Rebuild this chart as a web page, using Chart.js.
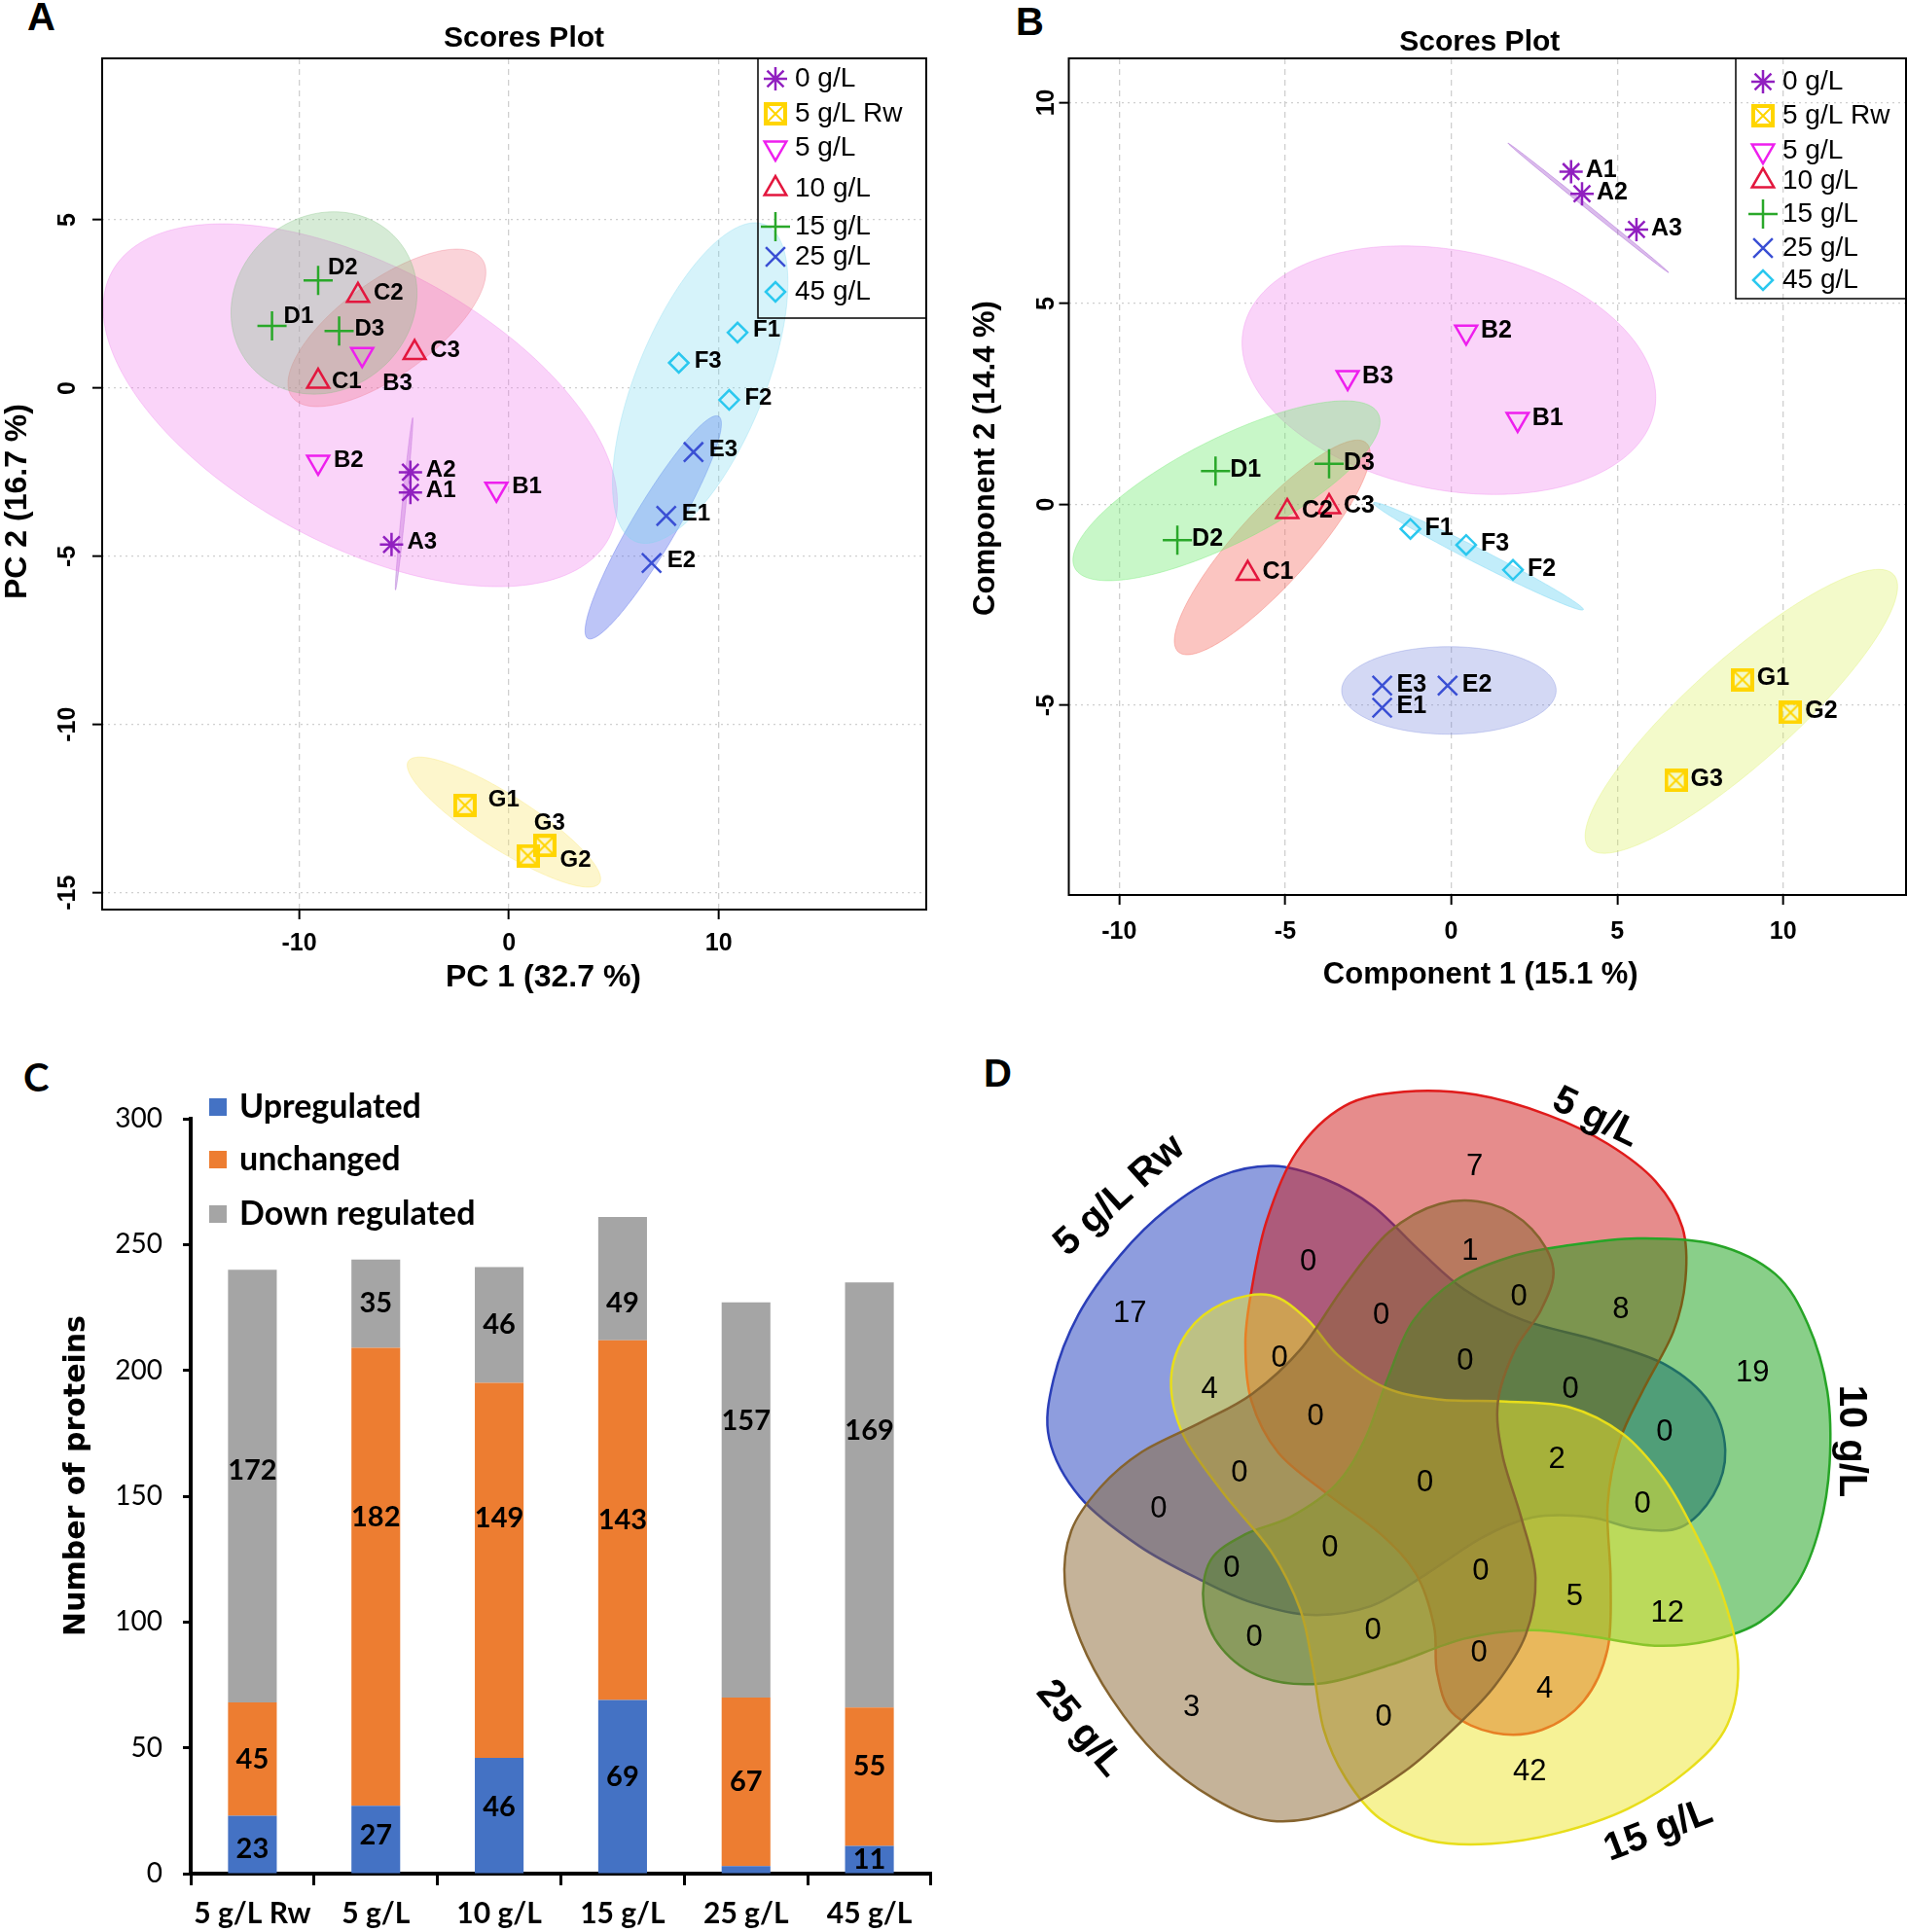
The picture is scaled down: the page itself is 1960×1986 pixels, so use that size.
<!DOCTYPE html>
<html>
<head>
<meta charset="utf-8">
<title>Scores plots, protein counts and Venn</title>
<script src="https://cdn.jsdelivr.net/npm/chart.js@4.4.1/dist/chart.umd.min.js"></script>
<style>
  html, body { margin: 0; padding: 0; background: #fff; overflow: hidden; }
  body { position: relative; width: 1960px; height: 1986px; }
  canvas { position: absolute; }
  .tag { position: absolute; font: bold 40px "Liberation Sans", Arial, sans-serif; line-height: 1; color: #000; }
</style>
</head>
<body>
<div class="tag" style="left:28px; top:-3px;">A</div>
<div class="tag" style="left:1044px; top:2px;">B</div>
<div class="tag" style="left:24px; top:1087px; font-family: Lato, sans-serif;">C</div>
<div class="tag" style="left:1011px; top:1083px;">D</div>

<canvas id="chartA" width="980" height="1040" style="left:0; top:0;"></canvas>
<canvas id="chartB" width="980" height="1040" style="left:980px; top:0;"></canvas>
<canvas id="chartC" width="990" height="896" style="left:0; top:1090px;"></canvas>
<canvas id="chartD" width="960" height="926" style="left:1000px; top:1060px;"></canvas>

<script>
// ─── Fonts ────────────────────────────────────────────────────────────────────
const SANS    = '"Liberation Sans", Arial, sans-serif';
const CALIBRI = 'Lato, "Liberation Sans", sans-serif';
const VERDANA = '"DejaVu Sans", Verdana, sans-serif';

// ─── Data: panels A and B (sample scores) ─────────────────────────────────────
const groupNames = ['0 g/L', '5 g/L Rw', '5 g/L', '10 g/L', '15 g/L', '25 g/L', '45 g/L'];
const sampleIds  = [['A1', 'A2', 'A3'], ['G1', 'G2', 'G3'], ['B1', 'B2', 'B3'], ['C1', 'C2', 'C3'],
                    ['D1', 'D2', 'D3'], ['E1', 'E2', 'E3'], ['F1', 'F2', 'F3']];

// PCA, PC1 / PC2
const pcaX = [[-4.7, -4.7, -5.6], [-2.1, 0.9, 1.7], [-0.6, -9.1, -7.0], [-9.1, -7.2, -4.5],
              [-11.3, -9.1, -8.1], [7.5, 6.8, 8.8], [10.9, 10.5, 8.1]];
const pcaY = [[-3.1, -2.5, -4.65], [-12.4, -13.9, -13.6], [-3.0, -2.2, 1.0], [0.2, 2.75, 1.05],
              [1.85, 3.2, 1.7], [-3.8, -5.2, -1.9], [1.65, -0.35, 0.75]];
// PCA group regions: centre x, centre y, then two conjugate semi-axes (x, y) in score units
const pcaRegions = [
  [-5.0, -3.44, 0.41, 2.56, 0.09, -0.01],
  [-0.24, -12.9, 4.56, -1.81, -0.69, -0.68],
  [-7.09, -0.51, 11.85, -3.96, -3.15, -3.66],
  [-5.82, 1.79, 4.53, 2.05, 1.32, -1.13],
  [-8.82, 2.53, 0.47, 2.71, 4.41, 0],
  [6.88, -4.14, 3.12, 3.30, 0.91, -0.33],
  [9.12, 0.15, -3.08, -4.71, 2.83, -0.72],
];

// PLS-DA, component 1 / component 2
const plsX = [[3.61, 3.94, 5.58], [8.77, 10.22, 6.77], [2.0, 0.45, -3.12], [-6.13, -4.94, -3.68],
              [-7.1, -8.25, -3.68], [-2.08, -0.11, -2.08], [-1.23, 1.86, 0.45]];
const plsY = [[8.28, 7.73, 6.84], [-4.36, -5.18, -6.87], [2.12, 4.29, 3.16], [-1.72, -0.18, -0.06],
              [0.83, -0.89, 1.01], [-5.06, -4.51, -4.51], [-0.61, -1.63, -1.01]];
const plsRegions = [
  [4.13, 7.38, 2.42, -1.61, 0.03, 0.04],
  [8.74, -5.15, 4.59, 3.40, 1.04, -0.96],
  [-0.07, 3.34, 6.19, -1.02, -0.71, -2.92],
  [-5.39, -1.07, -2.83, -2.60, 0.83, -0.61],
  [-6.77, 0.34, 4.57, 1.92, 0.71, -1.15],
  [-0.07, -4.63, 3.23, 0, 0, 1.09],
  [0.82, -1.29, 3.16, -1.33, -0.10, -0.16],
];

// ─── Data: panel C (protein counts) ───────────────────────────────────────────
const conditions    = ['5 g/L Rw', '5 g/L', '10 g/L', '15 g/L', '25 g/L', '45 g/L'];
const upregulated   = [23, 27, 46, 69, 3, 11];
const unchanged     = [45, 182, 149, 143, 67, 55];
const downRegulated = [172, 35, 46, 49, 157, 169];

// ─── Data: panel D (Venn region counts) ───────────────────────────────────────
const vennSets   = ['5 g/L Rw', '5 g/L', '10 g/L', '15 g/L', '25 g/L'];
const vennCounts = [17, 7, 19, 42, 3, 0, 1, 0, 8, 0, 0, 4, 0, 0, 0, 0, 2, 0, 0, 0,
                    0, 0, 0, 0, 5, 12, 0, 0, 0, 4, 0];

// ─── Styles ───────────────────────────────────────────────────────────────────
const groupColors = ['#9120c0', '#ffd500', '#ee1fee', '#e3173e', '#2aa82a', '#3a4fd4', '#2bc8ef'];

function makeBoxCross(size, color) {
  const c = document.createElement('canvas');
  c.width = c.height = size;
  const g = c.getContext('2d');
  g.strokeStyle = color;
  g.lineWidth = 4;
  g.strokeRect(2, 2, size - 4, size - 4);
  g.lineWidth = 2;
  g.beginPath();
  g.moveTo(4, 4); g.lineTo(size - 4, size - 4);
  g.moveTo(size - 4, 4); g.lineTo(4, size - 4);
  g.stroke();
  return c;
}
const boxCross = makeBoxCross(24, '#ffd500');
const markerStyle    = ['star', boxCross, 'triangle', 'triangle', 'cross', 'crossRot', 'rectRot'];
const markerRotation = [0, 0, 180, 0, 0, 0, 0];
const markerRadius   = [12, 12, 13, 13, 15, 14, 10];

const fillsA = ['rgba(150,60,200,0.3)', 'rgba(250,230,110,0.35)', 'rgba(240,120,235,0.32)',
                'rgba(240,110,130,0.3)', 'rgba(120,190,120,0.3)', 'rgba(90,110,235,0.4)',
                'rgba(120,215,240,0.3)'];
const fillsB = ['rgba(150,60,200,0.35)', 'rgba(215,240,80,0.3)', 'rgba(240,120,235,0.32)',
                'rgba(245,110,100,0.4)', 'rgba(110,235,110,0.38)', 'rgba(110,125,220,0.3)',
                'rgba(120,215,245,0.45)'];

// ─── Helpers ──────────────────────────────────────────────────────────────────

function closedSpline(ctx, p) {
  const n = p.length;
  ctx.beginPath();
  ctx.moveTo(p[0][0], p[0][1]);
  for (let i = 0; i < n; i++) {
    const p0 = p[(i - 1 + n) % n], p1 = p[i], p2 = p[(i + 1) % n], p3 = p[(i + 2) % n];
    ctx.bezierCurveTo(p1[0] + (p2[0] - p0[0]) / 6, p1[1] + (p2[1] - p0[1]) / 6,
                      p2[0] - (p3[0] - p1[0]) / 6, p2[1] - (p3[1] - p1[1]) / 6,
                      p2[0], p2[1]);
  }
  ctx.closePath();
}

function rotatedText(ctx, text, x, y, deg) {
  ctx.save();
  ctx.translate(x, y);
  ctx.rotate(deg * Math.PI / 180);
  ctx.fillText(text, 0, 0);
  ctx.restore();
}

// ─── Plugins for the score plots ──────────────────────────────────────────────

const groupEllipses = {
  id: 'groupEllipses',
  beforeDatasetsDraw(chart) {
    const { ctx, chartArea: ca, scales: { x, y } } = chart;
    ctx.save();
    ctx.beginPath();
    ctx.rect(ca.left, ca.top, ca.width, ca.height);
    ctx.clip();
    chart.data.datasets.forEach(ds => {
      const [cx, cy, ux, uy, vx, vy] = ds.region;
      ctx.beginPath();
      for (let k = 0; k <= 180; k++) {
        const th = k / 180 * 2 * Math.PI, c = Math.cos(th), s = Math.sin(th);
        const px = x.getPixelForValue(cx + ux * c + vx * s);
        const py = y.getPixelForValue(cy + uy * c + vy * s);
        if (k) ctx.lineTo(px, py); else ctx.moveTo(px, py);
      }
      ctx.closePath();
      ctx.fillStyle = ds.regionFill;
      ctx.fill();
      ctx.strokeStyle = ds.regionFill;
      ctx.lineWidth = 1;
      ctx.stroke();
    });
    ctx.restore();
  }
};

const scoreDecor = {
  id: 'scoreDecor',
  afterDatasetsDraw(chart, args, o) {
    const { ctx, chartArea: ca } = chart;
    ctx.save();

    // sample names next to the markers
    ctx.fillStyle = '#000';
    ctx.font = `bold ${o.labelSize}px ${SANS}`;
    ctx.textAlign = 'left';
    ctx.textBaseline = 'middle';
    chart.data.datasets.forEach((ds, i) => {
      chart.getDatasetMeta(i).data.forEach((pt, k) => {
        const id = ds.ids[k];
        const [dx, dy] = o.shifts[id] || o.shift;
        ctx.fillText(id, pt.x + dx, pt.y + dy);
      });
    });

    // plot frame
    ctx.strokeStyle = '#000';
    ctx.lineWidth = 2;
    ctx.strokeRect(ca.left, ca.top, ca.width, ca.height);

    // title and axis titles
    ctx.textAlign = 'center';
    ctx.font = `bold ${o.titleSize}px ${SANS}`;
    ctx.fillText(o.title, (ca.left + ca.right) / 2 + o.titleAt[0], ca.top - o.titleAt[1]);
    ctx.font = `bold ${o.axisTitleSize}px ${SANS}`;
    ctx.fillText(o.xTitle, (ca.left + ca.right) / 2 + o.xTitleAt[0], ca.bottom + o.xTitleAt[1]);
    rotatedText(ctx, o.yTitle, ca.left - o.yTitleAt[0], (ca.top + ca.bottom) / 2 + o.yTitleAt[1], -90);

    // legend box
    const L = o.legend, bx = ca.right - L.w, by = ca.top;
    ctx.lineWidth = 1.5;
    ctx.strokeRect(bx, by, L.w, L.h);
    ctx.font = `${L.size}px ${SANS}`;
    ctx.textAlign = 'left';
    chart.data.datasets.forEach((ds, i) => {
      const yy = by + L.rows[i];
      ctx.strokeStyle = ds.pointBorderColor;
      ctx.fillStyle = 'rgba(0,0,0,0)';
      ctx.lineWidth = 2.5;
      Chart.helpers.drawPoint(ctx, {
        pointStyle: ds.pointStyle, rotation: ds.pointRotation,
        radius: ds.pointRadius, borderWidth: 2.5
      }, bx + L.markerX, yy);
      ctx.fillStyle = '#000';
      ctx.fillText(ds.label, bx + L.textX, yy);
    });
    ctx.restore();
  }
};

function scoreDatasets(xs, ys, regions, fills) {
  return groupNames.map((name, g) => ({
    label: name,
    data: xs[g].map((v, k) => ({ x: v, y: ys[g][k] })),
    ids: sampleIds[g],
    region: regions[g],
    regionFill: fills[g],
    pointStyle: markerStyle[g],
    pointRotation: markerRotation[g],
    pointRadius: markerRadius[g],
    pointHoverRadius: markerRadius[g],
    pointBorderColor: groupColors[g],
    pointBackgroundColor: 'rgba(0,0,0,0)',
    pointBorderWidth: 2.5,
  }));
}

function scoreScales(c) {
  return {
    x: {
      type: 'linear', min: c.xMin, max: c.xMax,
      ticks: { stepSize: c.xStep, includeBounds: false, color: '#000', padding: c.xTickPad,
               font: { family: SANS, size: 25, weight: 'bold' } },
      grid: { color: '#cfcfcf', lineWidth: 1.3, tickColor: '#000', tickLength: 10, tickWidth: 2 },
      border: { display: false, dash: [6, 5] },
      afterFit(s) { s.height = c.xAxisH; s.paddingLeft = 0; s.paddingRight = 0; },
    },
    y: {
      type: 'linear', min: c.yMin, max: c.yMax,
      ticks: { stepSize: c.yStep, includeBounds: false, color: '#000', padding: c.yTickPad,
               minRotation: 90, maxRotation: 90, crossAlign: 'center',
               font: { family: SANS, size: 25, weight: 'bold' } },
      grid: { color: '#cfcfcf', lineWidth: 1.3, tickColor: '#000', tickLength: 10, tickWidth: 2 },
      border: { display: false, dash: [2, 4] },
      afterFit(s) { s.width = c.yAxisW; s.paddingTop = 0; s.paddingBottom = 0; },
    },
  };
}

// ─── Panel A: PCA scores plot ─────────────────────────────────────────────────
new Chart(document.getElementById('chartA'), {
  type: 'scatter',
  data: { datasets: scoreDatasets(pcaX, pcaY, pcaRegions, fillsA) },
  plugins: [groupEllipses, scoreDecor],
  options: {
    responsive: false,
    animation: false,
    events: [],
    layout: { autoPadding: false, padding: { left: 0, right: 28, top: 60, bottom: 0 } },
    scales: scoreScales({
      xMin: -19.4, xMax: 19.9, xStep: 10, yMin: -15.5, yMax: 9.8, yStep: 5,
      xTickPad: 10, yTickPad: 7, xAxisH: 105, yAxisW: 105,
    }),
    plugins: {
      legend: { display: false },
      tooltip: { enabled: false },
      scoreDecor: {
        title: 'Scores Plot', titleSize: 30, titleAt: [10, 20], labelSize: 24,
        xTitle: 'PC 1 (32.7 %)', yTitle: 'PC 2 (16.7 %)', axisTitleSize: 32,
        xTitleAt: [30, 70], yTitleAt: [87, 18],
        shift: [16, -2],
        shifts: { B3: [21, 30], G1: [24, -5], G2: [33, 5], G3: [-11, -23],
                  D1: [12, -10], D2: [10, -13], C1: [14, 0] },
        legend: { w: 173, h: 267, markerX: 18, textX: 38, size: 28,
                  rows: [21, 57, 92, 134, 173, 204, 240] },
      },
    },
  },
});

// ─── Panel B: PLS-DA scores plot ──────────────────────────────────────────────
new Chart(document.getElementById('chartB'), {
  type: 'scatter',
  data: { datasets: scoreDatasets(plsX, plsY, plsRegions, fillsB) },
  plugins: [groupEllipses, scoreDecor],
  options: {
    responsive: false,
    animation: false,
    events: [],
    layout: { autoPadding: false, padding: { left: 0, right: 1, top: 60, bottom: 0 } },
    scales: scoreScales({
      xMin: -11.52, xMax: 13.7, xStep: 5, yMin: -9.72, yMax: 11.1, yStep: 5,
      xTickPad: 13, yTickPad: -2, xAxisH: 120, yAxisW: 118.5,
    }),
    plugins: {
      legend: { display: false },
      tooltip: { enabled: false },
      scoreDecor: {
        title: 'Scores Plot', titleSize: 30, titleAt: [-8, 16], labelSize: 25,
        xTitle: 'Component 1 (15.1 %)', yTitle: 'Component 2 (14.4 %)', axisTitleSize: 31,
        xTitleAt: [-7, 82], yTitleAt: [85, -19],
        shift: [15, -1],
        shifts: {},
        legend: { w: 175, h: 247, markerX: 28, textX: 48, size: 28,
                  rows: [24, 59, 95, 126, 160, 195, 228] },
      },
    },
  },
});

// ─── Panel C: stacked protein counts ──────────────────────────────────────────
const barDecor = {
  id: 'barDecor',
  afterDatasetsDraw(chart, args, o) {
    const { ctx, chartArea: ca } = chart;
    ctx.save();
    ctx.font = `bold ${o.valueSize}px ${CALIBRI}`;
    ctx.fillStyle = '#000';
    ctx.textAlign = 'center';
    ctx.textBaseline = 'middle';
    chart.data.datasets.forEach((ds, i) => {
      chart.getDatasetMeta(i).data.forEach((bar, k) => {
        const v = ds.data[k];
        if (v < o.minLabel) return;
        ctx.fillText(String(v), bar.x, (bar.y + bar.base) / 2 + o.nudge[i][k]);
      });
    });

    ctx.font = `bold ${o.legendSize}px ${CALIBRI}`;
    ctx.textAlign = 'left';
    chart.data.datasets.forEach((ds, i) => {
      const yy = ca.top + o.legendRows[i];
      ctx.fillStyle = ds.backgroundColor;
      ctx.fillRect(ca.left + o.legendX, yy - o.box / 2, o.box, o.box);
      ctx.fillStyle = '#000';
      ctx.fillText(ds.label, ca.left + o.legendX + o.box + o.legendGap, yy);
    });

    ctx.textAlign = 'center';
    ctx.font = `bold ${o.yTitleSize}px ${VERDANA}`;
    rotatedText(ctx, o.yTitle, ca.left - o.yTitleAt[0], (ca.top + ca.bottom) / 2 + o.yTitleAt[1], -90);
    ctx.restore();
  }
};

new Chart(document.getElementById('chartC'), {
  type: 'bar',
  data: {
    labels: conditions,
    datasets: [
      { label: 'Upregulated',    data: upregulated,   backgroundColor: '#4472c4' },
      { label: 'unchanged',      data: unchanged,     backgroundColor: '#ed7d31' },
      { label: 'Down regulated', data: downRegulated, backgroundColor: '#a5a5a5' },
    ],
  },
  plugins: [barDecor],
  options: {
    responsive: false,
    animation: false,
    events: [],
    barPercentage: 0.395,
    categoryPercentage: 1,
    layout: { autoPadding: false, padding: { left: 0, right: 33, top: 60, bottom: 0 } },
    scales: {
      x: {
        stacked: true,
        ticks: { color: '#000', padding: 11, font: { family: CALIBRI, size: 30, weight: 'bold' } },
        grid: { offset: true, drawOnChartArea: false, tickLength: 12, tickWidth: 3, tickColor: '#000' },
        border: { display: true, color: '#000', width: 4 },
        afterFit(s) { s.height = 60; s.paddingLeft = 0; s.paddingRight = 0; },
      },
      y: {
        stacked: true, min: 0, max: 300,
        ticks: { stepSize: 50, color: '#000', padding: 21, font: { family: CALIBRI, size: 28 } },
        grid: { drawOnChartArea: false, tickLength: 8, tickWidth: 3, tickColor: '#000' },
        border: { display: true, color: '#000', width: 4 },
        afterFit(s) { s.width = 196; },
      },
    },
    plugins: {
      legend: { display: false },
      tooltip: { enabled: false },
      barDecor: {
        valueSize: 29, minLabel: 5, legendSize: 34, legendX: 19, box: 18, legendGap: 13,
        legendRows: [-12, 42, 98],
        yTitle: 'Number of proteins', yTitleSize: 30, yTitleAt: [117, -21],
        nudge: [[5, -4, -9, -10, 0, 0], [0, -61, -54, 0, 0, -11], [-16, 0, 0, 25, -81, -66]],
      },
    },
  },
});

// ─── Panel D: five-set Venn ───────────────────────────────────────────────────
// Outline of one petal (the 5 g/L set), relative to the diagram centre.
const petalOutline = [
  [-305, -307], [-280, -427], [-230, -547], [-150, -627], [-50, -652], [70, -647], [190, -612],
  [290, -562], [370, -497], [415, -417], [420, -327], [400, -237], [350, -137], [310, -47],
  [290, 63], [295, 193], [290, 313], [250, 403], [180, 453], [100, 458], [30, 423], [5, 353],
  [0, 273], [-30, 183], [-90, 113], [-180, 43], [-260, -27], [-305, -117], [-315, -217],
];
const vennStyle = [
  { fill: 'rgba(30,60,190,0.5)',  line: '#2b3fb8', rot: 72,   dx: 0,   dy: 0 },
  { fill: 'rgba(205,25,25,0.5)',  line: '#e01b1b', rot: 0,    dx: 0,   dy: 0 },
  { fill: 'rgba(20,160,20,0.5)',  line: '#27a527', rot: -72,  dx: 20,  dy: 0 },
  { fill: 'rgba(237,230,45,0.5)', line: '#e8de1a', rot: -144, dx: 0,   dy: 25 },
  { fill: 'rgba(140,104,52,0.5)', line: '#86642f', rot: 144,  dx: -25, dy: 15 },
];
const vennCentre = [770, 757];
const vennRegionXY = [
  [262, 490], [838, 235], [1302, 592], [930, 1282], [365, 1172], [560, 400], [830, 382],
  [912, 460], [1082, 482], [682, 492], [512, 567], [395, 620], [822, 572], [998, 620],
  [572, 668], [1155, 695], [975, 742], [445, 765], [755, 782], [310, 828], [1118, 820],
  [596, 895], [432, 930], [848, 935], [1005, 980], [1160, 1008], [470, 1050], [668, 1038],
  [845, 1078], [955, 1140], [686, 1188],
];
const vennNameXY = [
  { x: 245, y: 285, a: -42 }, { x: 1040, y: 150, a: 26 }, { x: 1465, y: 710, a: 90 },
  { x: 1145, y: 1385, a: -21 }, { x: 178, y: 1208, a: 50 },
];

const vennDraw = {
  id: 'vennDraw',
  beforeDatasetsDraw(chart) {
    const { ctx, scales: { x, y } } = chart;
    ctx.save();
    vennStyle.forEach(s => {
      const th = s.rot * Math.PI / 180, c = Math.cos(th), sn = Math.sin(th);
      const pts = petalOutline.map(([dx, dy]) => [
        x.getPixelForValue(vennCentre[0] + s.dx + dx * c + dy * sn),
        y.getPixelForValue(vennCentre[1] + s.dy - dx * sn + dy * c),
      ]);
      closedSpline(ctx, pts);
      ctx.fillStyle = s.fill;
      ctx.fill();
      ctx.strokeStyle = s.line;
      ctx.lineWidth = 2.5;
      ctx.stroke();
    });
    ctx.restore();
  },
  afterDatasetsDraw(chart) {
    const { ctx, scales: { x, y } } = chart;
    const ds = chart.data.datasets[0];
    ctx.save();
    ctx.fillStyle = '#000';
    ctx.textAlign = 'center';
    ctx.textBaseline = 'middle';
    ctx.font = `31px ${SANS}`;
    chart.getDatasetMeta(0).data.forEach((pt, k) => {
      ctx.fillText(String(ds.counts[k]), pt.x, pt.y);
    });
    ctx.font = `bold 40px ${SANS}`;
    vennSets.forEach((name, i) => {
      const p = vennNameXY[i];
      rotatedText(ctx, name, x.getPixelForValue(p.x), y.getPixelForValue(p.y), p.a);
    });
    ctx.restore();
  }
};

new Chart(document.getElementById('chartD'), {
  type: 'scatter',
  data: {
    datasets: [{
      data: vennRegionXY.map(([px, py]) => ({ x: px, y: py })),
      counts: vennCounts,
      pointRadius: 0,
      pointHoverRadius: 0,
    }],
  },
  plugins: [vennDraw],
  options: {
    responsive: false,
    animation: false,
    events: [],
    layout: { autoPadding: false, padding: 0 },
    scales: {
      x: { type: 'linear', min: 0, max: 1560, display: false },
      y: { type: 'linear', min: 0, max: 1560, reverse: true, display: false },
    },
    plugins: { legend: { display: false }, tooltip: { enabled: false } },
  },
});
</script>
</body>
</html>
